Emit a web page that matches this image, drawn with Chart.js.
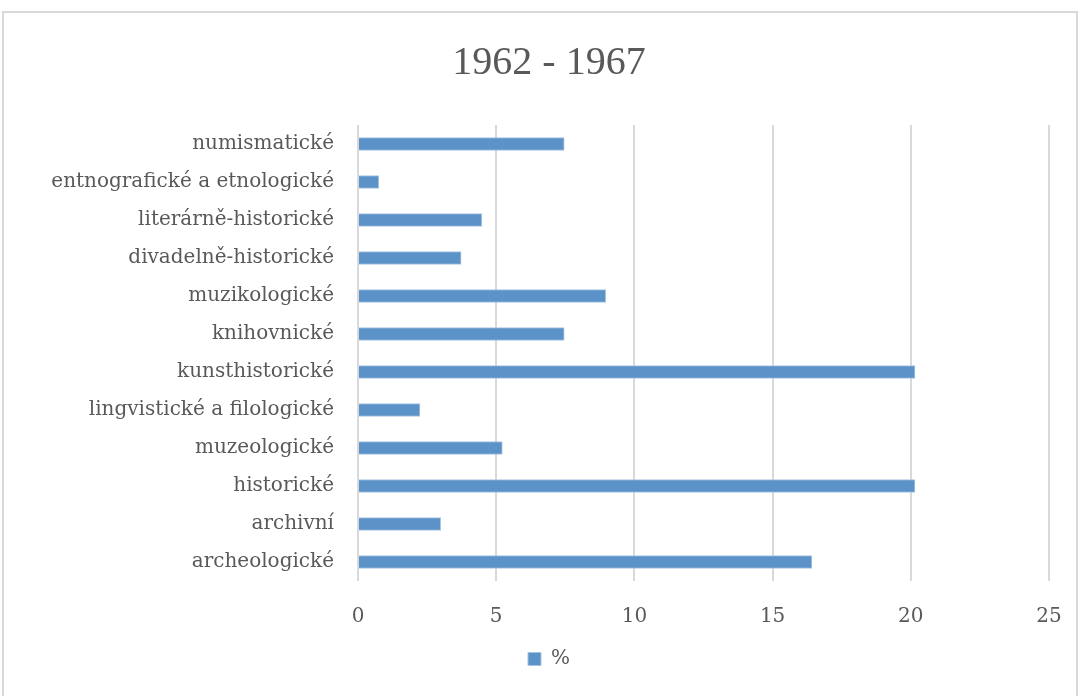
<!DOCTYPE html>
<html>
<head>
<meta charset="utf-8">
<script src="https://cdn.jsdelivr.net/npm/chart.js@4/dist/chart.umd.min.js"></script>
<style>
  html, body { margin: 0; padding: 0; background: #fff; overflow: hidden; }
  #frame { position: absolute; left: 2px; top: 11px; width: 1072px; height: 700px; border: 2px solid #d9d9d9; }
  #wrap { position: absolute; left: 0; top: 0; width: 1078px; height: 696px; }
</style>
</head>
<body>
<div id="frame"></div>
<div id="wrap"><canvas id="chart" width="1078" height="696"></canvas></div>
<script>
// categories, top to bottom as in the picture
const categories = [
  "numismatické",
  "entnografické a etnologické",
  "literárně-historické",
  "divadelně-historické",
  "muzikologické",
  "knihovnické",
  "kunsthistorické",
  "lingvistické a filologické",
  "muzeologické",
  "historické",
  "archivní",
  "archeologické"
];
const percent = [7.46, 0.75, 4.48, 3.73, 8.96, 7.46, 20.15, 2.24, 5.22, 20.15, 2.99, 16.42];
const xTicks = [0, 5, 10, 15, 20, 25];

const textColor = "#595959";
const labelFont = { family: "'DejaVu Serif', serif", size: 20 };

new Chart(document.getElementById("chart"), {
  type: "bar",
  data: {
    labels: categories,
    datasets: [{
      label: "%",
      data: percent,
      backgroundColor: "#5b92c7",
      borderColor: "#a7c4e3",
      borderWidth: 1,
      barThickness: 13
    }]
  },
  options: {
    indexAxis: "y",
    responsive: false,
    animation: false,
    layout: { padding: { left: 49, right: 29, top: 0, bottom: 17 } },
    plugins: {
      title: {
        display: true,
        text: "1962 - 1967",
        color: textColor,
        font: { family: "'Liberation Serif', serif", size: 40, weight: "normal" },
        padding: { top: 39, bottom: 38 }
      },
      legend: {
        position: "bottom",
        labels: {
          color: textColor,
          font: labelFont,
          boxWidth: 13,
          boxHeight: 13
        }
      },
      tooltip: { enabled: false }
    },
    scales: {
      x: {
        min: 0,
        max: 25,
        afterBuildTicks: (scale) => { scale.ticks = xTicks.map(v => ({ value: v })); },
        // transparent tick marks give the gap under the plot without widening the side padding
        grid: { color: "#d9d9d9", lineWidth: 2, drawTicks: true, tickLength: 22, tickColor: "rgba(0,0,0,0)" },
        border: { display: false },
        ticks: { color: textColor, font: labelFont, padding: 2 },
        afterFit: (scale) => { scale.height = 58; }
      },
      y: {
        grid: { display: false },
        border: { display: false },
        ticks: { color: textColor, font: labelFont, padding: 16 },
        afterFit: (scale) => { scale.width = 309; }
      }
    }
  }
});
</script>
</body>
</html>
